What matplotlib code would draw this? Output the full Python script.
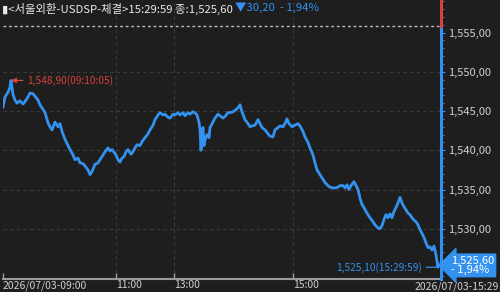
import matplotlib
matplotlib.use("Agg")
import matplotlib.pyplot as plt
from matplotlib.ticker import MultipleLocator, FuncFormatter

plt.rcParams['font.family'] = ['Noto Sans CJK KR', 'DejaVu Sans']

# trade sequence position (x) and price (y)
seq = [0, 2, 5, 7, 8, 10, 12, 14, 17, 20, 22, 25, 27, 30, 32, 35, 37, 40, 42, 45,
       47, 49, 52, 55, 57, 59, 62, 65, 67, 70, 72, 75, 77, 80, 82, 85, 87, 89, 92, 95,
       97, 100, 102, 105, 107, 109, 113, 115, 117, 119, 121, 123, 125, 128, 130, 132, 134, 137, 139, 142,
       145, 147, 150, 152, 155, 157, 160, 162, 165, 167, 170, 172, 175, 177, 180, 182, 185, 187, 190, 192,
       194, 196, 197, 198, 199, 200, 201, 202, 204, 206, 207, 210, 212, 215, 217, 220, 222, 225, 227, 230,
       233, 235, 237, 239, 242, 245, 247, 249, 252, 255, 257, 259, 262, 265, 267, 270, 272, 275, 277, 280,
       282, 284, 286, 289, 292, 295, 297, 300, 302, 305, 307, 310, 312, 314, 317, 319, 322, 325, 327, 330,
       332, 335, 337, 340, 342, 344, 346, 348, 351, 353, 355, 357, 359, 361, 363, 365, 367, 370, 372, 375,
       377, 379, 381, 383, 385, 387, 389, 391, 393, 395, 397, 399, 401, 403, 405, 407, 409, 411, 413, 415,
       417, 419, 421, 423, 425, 427, 429, 431, 433, 434, 435, 435]
price = [1545.5, 1546.8, 1547.4, 1548.0, 1548.9, 1547.1, 1546.4, 1546.0, 1546.3, 1545.9, 1546.2, 1546.8, 1547.3, 1547.2, 1546.9, 1546.4, 1545.8, 1545.2, 1544.8, 1543.5,
         1543.0, 1542.6, 1543.6, 1543.0, 1543.4, 1542.4, 1541.4, 1540.6, 1540.1, 1539.4, 1538.8, 1539.0, 1538.4, 1538.3, 1538.0, 1537.5, 1536.9, 1537.3, 1538.2, 1538.4,
         1538.8, 1539.4, 1539.8, 1540.3, 1539.9, 1540.1, 1539.4, 1538.8, 1538.5, 1539.0, 1539.2, 1539.8, 1540.1, 1539.5, 1539.8, 1540.3, 1540.7, 1540.6, 1541.1, 1541.6,
         1542.1, 1542.6, 1543.2, 1543.9, 1544.5, 1544.8, 1544.5, 1544.6, 1544.2, 1544.1, 1544.6, 1544.5, 1544.8, 1544.5, 1544.8, 1544.4, 1544.8, 1544.6, 1544.9, 1544.8,
         1544.5, 1543.6, 1542.6, 1540.0, 1542.0, 1542.9, 1540.6, 1541.3, 1542.0, 1541.6, 1542.9, 1543.6, 1544.1, 1544.6, 1544.4, 1544.1, 1544.3, 1544.8, 1544.8, 1544.9,
         1545.2, 1545.4, 1545.8, 1544.9, 1543.9, 1543.4, 1543.0, 1543.1, 1543.2, 1543.9, 1543.4, 1542.9, 1542.6, 1542.1, 1541.8, 1541.7, 1542.6, 1542.9, 1543.1, 1543.0,
         1543.4, 1544.0, 1543.4, 1543.0, 1543.2, 1543.4, 1543.1, 1542.4, 1541.7, 1541.0, 1540.3, 1539.4, 1538.4, 1537.5, 1536.9, 1536.5, 1535.9, 1535.5, 1535.3, 1535.2,
         1535.2, 1535.3, 1535.5, 1535.5, 1535.2, 1535.6, 1535.0, 1535.5, 1536.0, 1535.5, 1535.0, 1533.9, 1533.1, 1532.7, 1532.2, 1531.8, 1531.4, 1530.9, 1530.5, 1530.1,
         1530.0, 1530.4, 1531.2, 1531.8, 1531.4, 1531.9, 1531.4, 1532.2, 1532.7, 1533.3, 1534.0, 1533.3, 1532.8, 1532.4, 1532.0, 1531.8, 1531.4, 1531.1, 1530.9, 1530.5,
         1529.9, 1529.4, 1528.9, 1528.2, 1527.6, 1527.7, 1527.3, 1527.8, 1526.7, 1525.8, 1525.1, 1525.6]

tick_pos = [0, 113, 171, 290]
tick_labels = ['2026/07/03-09:00', '11:00', '13:00', '15:00']
end_label = '2026/07/03-15:29'

prev_close = 1555.80
last_price = 1525.60
high_price, high_seq, high_time = 1548.90, 8, '09:10:05'
low_price, low_seq, low_time = 1525.10, 434, '15:29:59'
change, change_pct = -30.20, -1.94

bg = '#1e1e1e'
blue = '#3392f0'
red = '#d9413a'
grey_txt = '#d0d0d0'


def kfmt(v):
    return f"{v:,.2f}".replace('.', ',')


fig = plt.figure(figsize=(5, 2.92), dpi=100, facecolor=bg)
ax = fig.add_axes([3 / 500, 13 / 292, 438 / 500, 279 / 292], facecolor=bg)
ax.set_xlim(0, 438)
ax.set_ylim(1523.6, 1559.15)

ax.plot(seq, price, color=blue, lw=2.0, solid_joinstyle='round', zorder=3)

# grid
for y in [1530, 1535, 1540, 1545, 1550]:
    ax.axhline(y, color='#3a3a3a', lw=0.8, dashes=(3, 3), zorder=1)
for x in tick_pos[1:]:
    ax.axvline(x, color='#3a3a3a', lw=0.8, dashes=(3, 3), zorder=1)
ax.axhline(prev_close, color='#bdbdbd', lw=1.0, dashes=(2, 2), zorder=2)

# spines
for s in ['top', 'left', 'right']:
    ax.spines[s].set_visible(False)
ax.spines['bottom'].set_color('#9a9a9a')
ax.spines['bottom'].set_linewidth(1.5)
ytr = ax.get_yaxis_transform()
ax.plot([1, 1], [ax.get_ylim()[0], prev_close], transform=ytr, color=blue, lw=2.2, clip_on=False, zorder=5)
ax.plot([1, 1], [prev_close, ax.get_ylim()[1]], transform=ytr, color=red, lw=2.2, clip_on=False, zorder=5)

# y axis on the right
ax.yaxis.tick_right()
ax.yaxis.set_major_locator(MultipleLocator(5))
ax.yaxis.set_minor_locator(MultipleLocator(1))
ax.yaxis.set_major_formatter(FuncFormatter(lambda v, p: kfmt(v) if 1528 < v < 1557 else ''))
ax.tick_params(axis='y', which='major', length=3, width=0.8, color=blue, colors=grey_txt,
               labelsize=8, pad=2)
ax.tick_params(axis='y', which='minor', length=2, width=0.6, color=blue)
ax.tick_params(axis='y', which='both', color=blue)

# x axis
ax.set_xticks(tick_pos)
ax.set_xticklabels(tick_labels)
ax.tick_params(axis='x', direction='in', length=4, width=1, color='#9a9a9a', colors=grey_txt,
               labelsize=7.5, pad=1)
for lab in ax.get_xticklabels():
    lab.set_ha('left')
fig.text(0.998, 0.0, end_label, ha='right', va='bottom', fontsize=7.5, color=grey_txt)

# high / low annotations
ax.annotate(f"{kfmt(high_price)}({high_time})", xy=(high_seq, high_price), xytext=(24, high_price),
            color=red, fontsize=7.3, va='center', ha='left',
            arrowprops=dict(arrowstyle='-|>,head_length=0.4,head_width=0.2', color=red, lw=0.9,
                            shrinkA=1, shrinkB=0))
ax.annotate(f"{kfmt(low_price)}({low_time})", xy=(low_seq, low_price), xytext=(419, low_price),
            color=blue, fontsize=7.3, va='center', ha='right',
            arrowprops=dict(arrowstyle='-', color=blue, lw=0.9, shrinkA=1, shrinkB=0))

# last price box
ax.annotate(f"{kfmt(last_price)}\n- {abs(change_pct):.2f}%".replace('.', ','),
            xy=(1, last_price), xycoords=ytr, xytext=(7, -1.5), textcoords='offset points',
            ha='left', va='center', fontsize=8, color='white', linespacing=0.9,
            bbox=dict(boxstyle='larrow,pad=0.15', fc=blue, ec=blue), annotation_clip=False, zorder=6)

# title
t1 = fig.text(0.004, 0.99, "▮<서울외환-USDSP-체결>15:29:59 종:" + kfmt(last_price) + " ",
              ha='left', va='top', fontsize=8.2, color='#e8e8e8')
fig.canvas.draw()
bb = t1.get_window_extent().transformed(fig.transFigure.inverted())
fig.text(bb.x1, 0.99, "▼" + f"{abs(change):.2f}".replace('.', ',') + f"  - {abs(change_pct):.2f}%".replace('.', ','),
         ha='left', va='top', fontsize=8.2, color=blue)

fig.savefig('out.png', dpi=100, facecolor=bg)
